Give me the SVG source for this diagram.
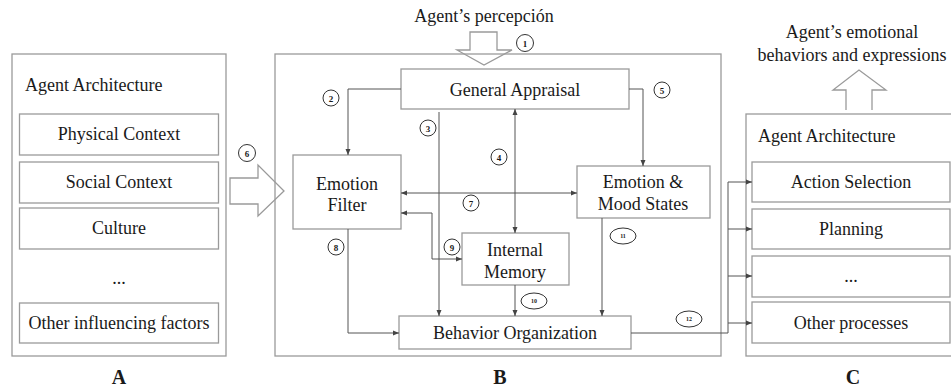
<svg xmlns="http://www.w3.org/2000/svg" width="951" height="388" viewBox="0 0 951 388">
<style>
.box{fill:#fff;stroke:#9a9a9a;stroke-width:1.3}
.frame{fill:none;stroke:#9a9a9a;stroke-width:1.3}
.t{font-family:"Liberation Serif","Times New Roman",serif;font-size:18px;fill:#1a1a1a}
.tc{text-anchor:middle}
.lbl{font-family:"Liberation Serif","Times New Roman",serif;font-size:20px;font-weight:bold;fill:#1a1a1a;text-anchor:middle}
.c{fill:#fff;stroke:#333;stroke-width:1}
.n{font-family:"Liberation Serif","Times New Roman",serif;font-size:9px;font-weight:bold;fill:#1a1a1a;text-anchor:middle}
.ns{font-family:"Liberation Serif","Times New Roman",serif;font-size:6px;font-weight:bold;fill:#1a1a1a;text-anchor:middle}
.ln{fill:none;stroke:#555;stroke-width:1}
</style>
<defs>
<marker id="ah" viewBox="0 0 6 6" refX="6" refY="3" markerWidth="6" markerHeight="6" markerUnits="userSpaceOnUse" orient="auto-start-reverse">
<path d="M0,0.5 L6,3 L0,5.5 z" fill="#444"/>
</marker>
</defs>

<g id="panelA">
<rect class="frame" x="12" y="54" width="214" height="302"/>
<text class="t" x="25" y="91">Agent Architecture</text>
<g id="physical"><rect class="box" x="19.5" y="114" width="199" height="41"/><text class="t tc" x="119" y="140">Physical Context</text></g>
<g id="social"><rect class="box" x="19.5" y="162" width="199" height="41"/><text class="t tc" x="119" y="188">Social Context</text></g>
<g id="culture"><rect class="box" x="19.5" y="208" width="199" height="41"/><text class="t tc" x="119" y="234">Culture</text></g>
<text class="t tc" x="119" y="284">...</text>
<g id="other"><rect class="box" x="19.5" y="303" width="199" height="40"/><text class="t tc" x="119" y="329">Other influencing factors</text></g>
<text class="lbl" x="119" y="384">A</text>
</g>

<g id="arrow6">
<path class="frame" d="M230,178 L258,178 L258,165 L284,191 L258,216 L258,204 L230,204 z" fill="#fff"/>
<circle class="c" cx="247" cy="153" r="8.5"/><text class="n" x="247" y="156.5">6</text>
</g>

<g id="panelB">
<rect class="frame" x="275" y="54" width="446" height="302"/>
<text class="lbl" x="500" y="384">B</text>
</g>

<g id="perception">
<text class="t tc" x="484" y="22">Agent’s percepción</text>
<path class="frame" d="M470,32 L497,32 L497,50 L512,50 L484,65 L457,50 L470,50 z" fill="#fff"/>
<circle class="c" cx="525" cy="43" r="8.5"/><text class="n" x="525" y="46.5">1</text>
</g>

<g id="generalAppraisal"><rect class="box" x="401" y="69" width="228" height="40"/><text class="t tc" x="515" y="96">General Appraisal</text></g>
<g id="emotionFilter"><rect class="box" x="293" y="155" width="108" height="74"/><text class="t tc" x="347" y="190">Emotion</text><text class="t tc" x="347" y="211">Filter</text></g>
<g id="emotionMood"><rect class="box" x="577" y="166" width="133" height="52"/><text class="t tc" x="643" y="188">Emotion &amp;</text><text class="t tc" x="643" y="210">Mood States</text></g>
<g id="internalMemory"><rect class="box" x="462" y="233" width="107" height="52"/><text class="t tc" x="515" y="256">Internal</text><text class="t tc" x="515" y="278">Memory</text></g>
<g id="behaviorOrg"><rect class="box" x="399" y="316" width="232" height="33"/><text class="t tc" x="515" y="339">Behavior Organization</text></g>

<g id="panelC">
<rect class="frame" x="746" y="114" width="215" height="242"/>
<text class="t" x="758" y="142">Agent Architecture</text>
<g id="actionSel"><rect class="box" x="752" y="162" width="198" height="40"/><text class="t tc" x="851" y="188">Action Selection</text></g>
<g id="planning"><rect class="box" x="752" y="209" width="198" height="40"/><text class="t tc" x="851" y="235">Planning</text></g>
<g id="dots"><rect class="box" x="752" y="256" width="198" height="41"/><text class="t tc" x="851" y="282">...</text></g>
<g id="otherProc"><rect class="box" x="752" y="302" width="198" height="41"/><text class="t tc" x="851" y="329">Other processes</text></g>
<text class="lbl" x="853" y="384">C</text>
</g>

<g id="output">
<text class="t tc" x="852" y="38">Agent’s emotional</text>
<text class="t tc" x="852" y="61">behaviors and expressions</text>
<path class="frame" d="M846,110 L846,90 L833,90 L859,70 L886,90 L872,90 L872,110" fill="#fff"/>
</g>

<g id="connectors">
<path class="ln" d="M401,89 L348,89 L348,155" marker-end="url(#ah)"/>
<path class="ln" d="M439,112 L439,316" marker-end="url(#ah)"/>
<path class="ln" d="M515,233 L515,109" marker-start="url(#ah)" marker-end="url(#ah)"/>
<path class="ln" d="M629,89 L643,89 L643,166" marker-end="url(#ah)"/>
<path class="ln" d="M401,193 L577,193" marker-start="url(#ah)" marker-end="url(#ah)"/>
<path class="ln" d="M401,213 L432,213 L432,259 L462,259" marker-start="url(#ah)" marker-end="url(#ah)"/>
<path class="ln" d="M348,229 L348,333 L399,333" marker-end="url(#ah)"/>
<path class="ln" d="M515,285 L515,316" marker-end="url(#ah)"/>
<path class="ln" d="M602,218 L602,316" marker-end="url(#ah)"/>
<path class="ln" d="M631,333 L728,333 L728,182"/>
<path class="ln" d="M728,182 L752,182" marker-end="url(#ah)"/>
<path class="ln" d="M728,229 L752,229" marker-end="url(#ah)"/>
<path class="ln" d="M728,276 L752,276" marker-end="url(#ah)"/>
<path class="ln" d="M728,323 L752,323" marker-end="url(#ah)"/>
</g>

<g id="numbers">
<circle class="c" cx="331" cy="98" r="8"/><text class="n" x="331" y="101.5">2</text>
<circle class="c" cx="428" cy="128" r="8"/><text class="n" x="428" y="131.5">3</text>
<circle class="c" cx="499" cy="157" r="8"/><text class="n" x="499" y="160.5">4</text>
<circle class="c" cx="662" cy="90" r="8"/><text class="n" x="662" y="93.5">5</text>
<circle class="c" cx="471" cy="203" r="8"/><text class="n" x="471" y="206.5">7</text>
<circle class="c" cx="336" cy="247" r="8"/><text class="n" x="336" y="250.5">8</text>
<circle class="c" cx="452" cy="247" r="8"/><text class="n" x="452" y="250.5">9</text>
<ellipse class="c" cx="534" cy="301" rx="13" ry="8"/><text class="ns" x="534" y="303">10</text>
<ellipse class="c" cx="623" cy="236" rx="13" ry="8"/><text class="ns" x="623" y="238">11</text>
<ellipse class="c" cx="689" cy="319" rx="13" ry="8"/><text class="ns" x="689" y="321">12</text>
</g>
</svg>
